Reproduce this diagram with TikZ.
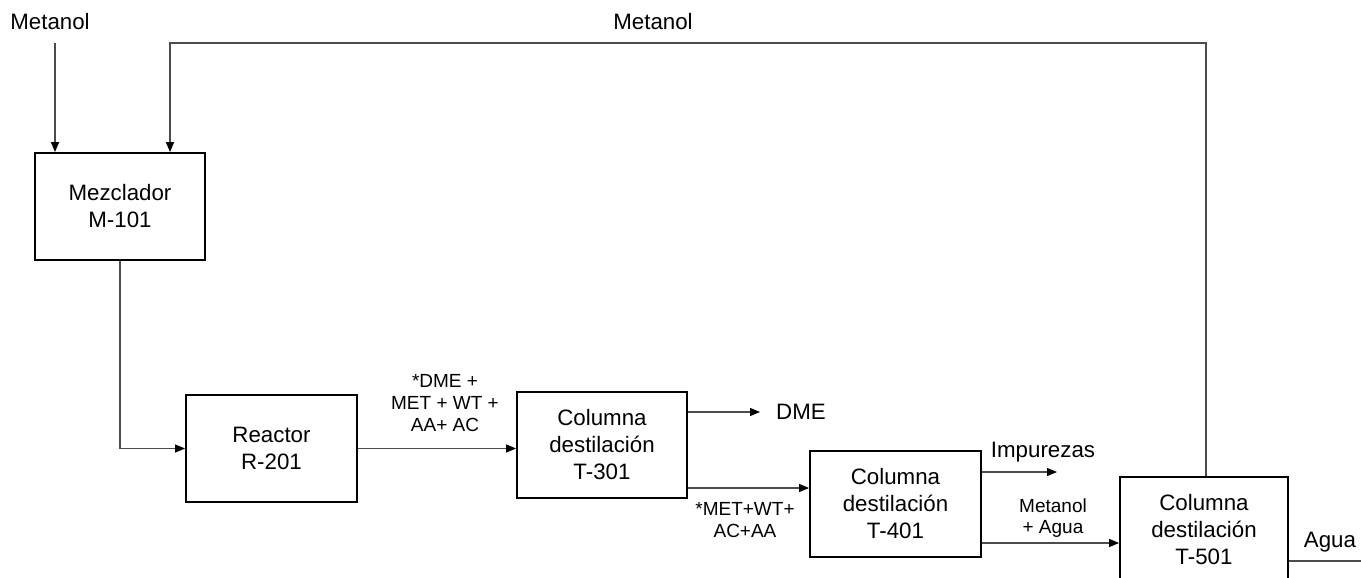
\documentclass[tikz,border=0pt]{standalone}
\usepackage{fontspec}
\setmainfont{Liberation Sans}
\usetikzlibrary{arrows.meta}
\begin{document}
\begin{tikzpicture}[x=1pt,y=-1pt,
  unit/.style={draw=black,line width=1.8pt,minimum width=#1,minimum height=106pt,
    inner sep=0pt,align=center,font=\fontsize{22.3}{27}\selectfont},
  unit/.default=170pt,
  flow/.style={draw=black!70,line width=1.2pt},
  feed/.style={flow,-{Triangle[length=10pt,width=8pt,fill=black,color=black]}},
  lbl/.style={inner sep=0pt,font=\fontsize{22.3}{27}\selectfont},
  small/.style={inner sep=0pt,align=center,font=\fontsize{19}{22}\selectfont}]
\useasboundingbox (0,0) rectangle (1361,578);
\clip (0,0) rectangle (1361,578);

% process units
\node[unit,minimum height=107pt] (mix) at (120,206.5) {Mezclador\\M-101};
\node[unit=171pt,minimum height=107pt] (rea) at (271.5,448.5) {Reactor\\R-201};
\node[unit] (t301) at (602,445) {Columna\\destilación\\T-301};
\node[unit=171pt] (t401) at (895.5,504) {Columna\\destilación\\T-401};
\node[unit=168pt] (t501) at (1204,530) {Columna\\destilación\\T-501};

% stream labels
\node[lbl] (feedlbl) at (50,22) {Metanol};
\node[lbl] (reclbl) at (653,22) {Metanol};
\node[small] (s1) at (445,403) {*DME +\\MET + WT +\\AA+ AC};
\node[small] (s2) at (745,520) {*MET+WT+\\AC+AA};
\node[lbl,anchor=west] (dme) at (776,412) {DME};
\node[lbl] (imp) at (1043,452) {Impurezas};
\node[small,font=\fontsize{19}{21.5}\selectfont] (s3) at (1053,518) {Metanol\\+ Agua};
\node[lbl] (agua) at (1330,542) {Agua};

% free ends of the streams
\coordinate (fin) at (55,43);
\coordinate (rtop) at (170,43);
\coordinate (rx) at (1206,43);
\coordinate (dmeend) at (760,412);
\coordinate (impend) at (1057,472);
\coordinate (aguaend) at (1361,561);

% connectors
\draw[feed] (fin) -- (fin |- mix.north);
\draw[feed] (t501.north -| rx) -- (rx) -- (rtop) -- (rtop |- mix.north);
\draw[feed] (mix.south) |- (rea.west);
\draw[feed] (rea.east) -- (rea.east -| t301.west);
\draw[feed] (t301.east |- dmeend) -- (dmeend);
\draw[feed] (t301.east |- 0,488) -- (t401.west |- 0,488);
\draw[feed] (t401.east |- impend) -- (impend);
\draw[feed] (t401.east |- 0,543) -- (t501.west |- 0,543);
\draw[flow] (t501.east |- aguaend) -- (aguaend);
\end{tikzpicture}
\end{document}
